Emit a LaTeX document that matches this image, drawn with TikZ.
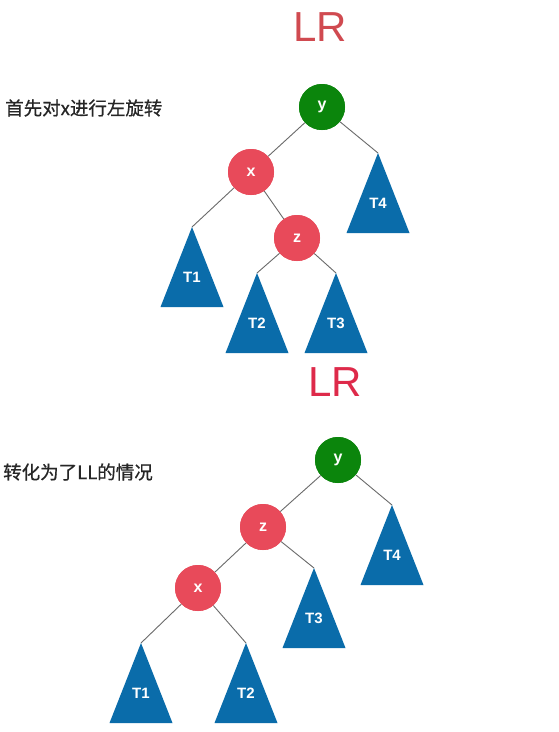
\documentclass[tikz,border=0pt]{standalone}
\usepackage{fontspec}
\setmainfont{Liberation Sans}
\newfontfamily\cjk[FakeBold=0.7]{Noto Sans CJK SC}
\usetikzlibrary{calc}
\definecolor{ngreen}{HTML}{0B850C}
\definecolor{nred}{HTML}{E84A5A}
\definecolor{tblue}{HTML}{0A6CAA}
\definecolor{edgegray}{HTML}{6A6A6A}
\definecolor{lrtop}{HTML}{D04A50}
\definecolor{lrbot}{HTML}{DE2A4A}
\tikzset{
  treenode/.style={circle, minimum size=46pt, inner sep=0pt, text=white, font=\fontsize{16}{16}\selectfont\bfseries},
  greennode/.style={treenode, fill=ngreen},
  rednode/.style={treenode, fill=nred},
  tri/.style={fill=tblue},
  trilabel/.style={text=white, font=\fontsize{15}{15}\selectfont\bfseries, inner sep=0pt},
  edge/.style={draw=edgegray, line width=0.9pt},
  title/.style={font=\fontsize{42}{42}\selectfont, inner sep=0pt},
  note/.style={font=\cjk\fontsize{18.5}{18.5}\selectfont, inner sep=0pt, anchor=west, text=black!85}
}
\newcommand{\subtree}[2]{%
  \fill[tri] (#1) -- ++(-31.5,80) -- ++(63,0) -- cycle;
  \node[trilabel] at ($(#1)+(0,50)$) {#2};}
\begin{document}
\begin{tikzpicture}[x=1pt,y=-1pt]
\useasboundingbox (0,0) rectangle (559,732);
\fill[white] (0,0) rectangle (559,732);
% ---------- top ----------
\node[title, text=lrtop] (lr1) at (320,27) {LR};
\node[note] (n1) at (5,108) {首先对x进行左旋转};
\node[greennode] (y1) at (322,107) {y};
\node[rednode] (x1) at (251,172) {x};
\node[rednode] (z1) at (297,238) {z};
\coordinate (t41) at (378,153);
\coordinate (t11) at (192,227);
\coordinate (t21) at (257,273);
\coordinate (t31) at (336,273);
\draw[edge] (y1) -- (x1);
\draw[edge] (y1) -- (t41);
\draw[edge] (x1) -- (t11);
\draw[edge] (x1) -- (z1);
\draw[edge] (z1) -- (t21);
\draw[edge] (z1) -- (t31);
\subtree{t41}{T4}
\subtree{t11}{T1}
\subtree{t21}{T2}
\subtree{t31}{T3}
\node[greennode] at (y1) {y};
\node[rednode] at (x1) {x};
\node[rednode] at (z1) {z};
% ---------- bottom ----------
\node[title, text=lrbot] (lr2) at (335,382) {LR};
\node[note] (n2) at (3,472) {转化为了LL的情况};
\node[greennode] (y2) at (338,460) {y};
\node[rednode] (z2) at (263,527) {z};
\node[rednode] (x2) at (198,588) {x};
\coordinate (t42) at (392,505);
\coordinate (t32) at (314,568);
\coordinate (t12) at (141,643);
\coordinate (t22) at (246,643);
\draw[edge] (y2) -- (z2);
\draw[edge] (y2) -- (t42);
\draw[edge] (z2) -- (x2);
\draw[edge] (z2) -- (t32);
\draw[edge] (x2) -- (t12);
\draw[edge] (x2) -- (t22);
\subtree{t42}{T4}
\subtree{t32}{T3}
\subtree{t12}{T1}
\subtree{t22}{T2}
\node[greennode] at (y2) {y};
\node[rednode] at (z2) {z};
\node[rednode] at (x2) {x};
\end{tikzpicture}
\end{document}
